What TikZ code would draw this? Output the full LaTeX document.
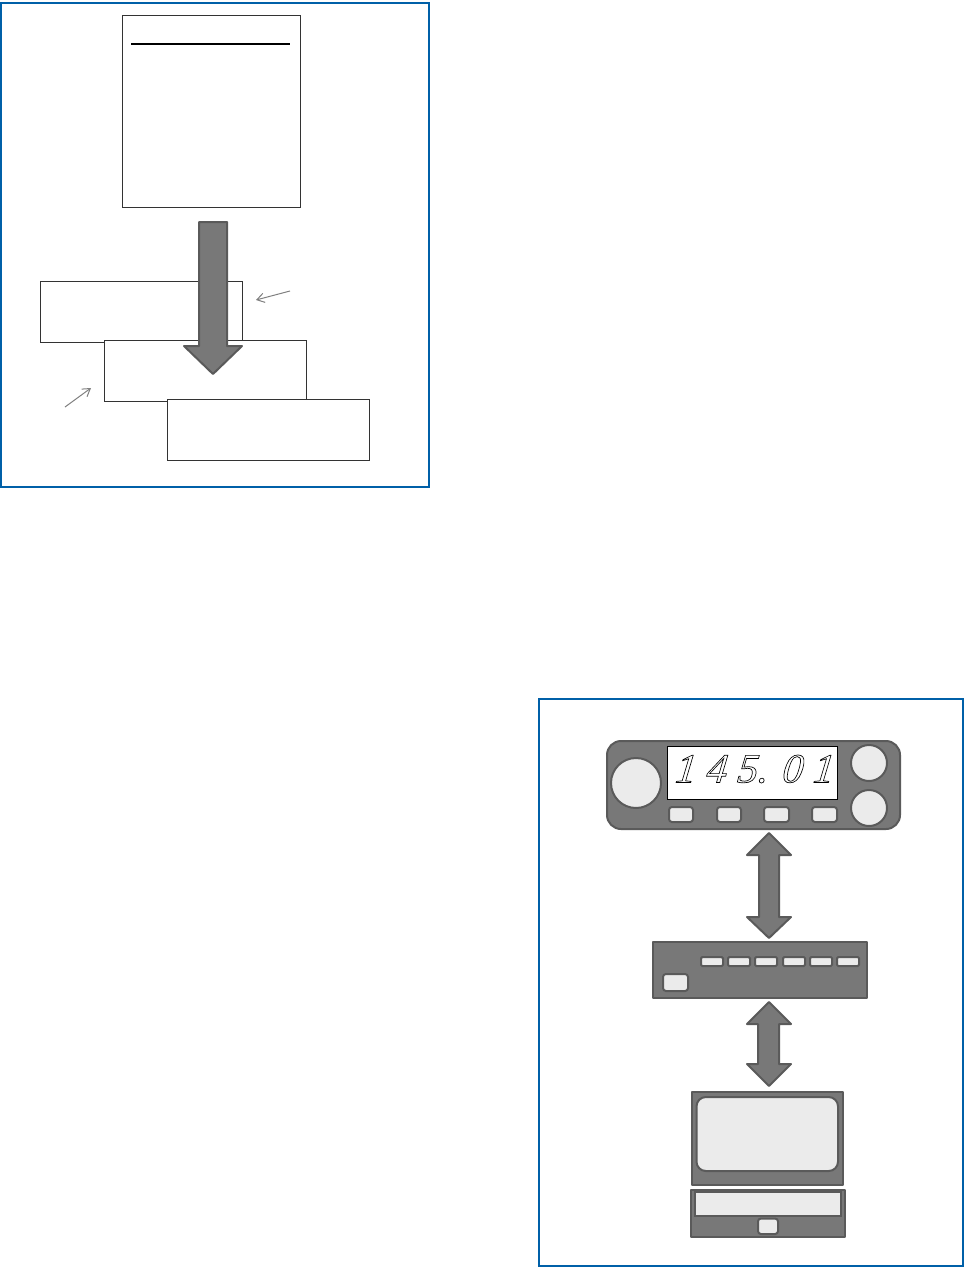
\documentclass[tikz,border=0pt]{standalone}
\usepackage{fontspec}
\setmainfont{Liberation Serif}
\usetikzlibrary{arrows.meta}
\definecolor{frameblue}{HTML}{0060A8}
\definecolor{devfill}{HTML}{787878}
\definecolor{devline}{HTML}{5A5A5A}
\definecolor{keyfill}{HTML}{EBEBEB}
\definecolor{boxline}{HTML}{333333}
\tikzset{
  frame/.style={draw=frameblue,line width=1.5pt,fill=white},
  paper/.style={draw=boxline,line width=0.65pt,fill=white},
  device/.style={draw=devline,line width=1.5pt,fill=devfill,line join=round},
  keycap/.style={draw=devline,line width=1.5pt,fill=keyfill,rounded corners=2.2pt},
  blockarrow/.style={draw=devline,line width=1.5pt,fill=devfill,line join=round},
  thinarrow/.style={draw=gray,line width=0.75pt,-{Straight Barb[length=5.5pt,width=7pt]}},
}
\begin{document}
\begin{tikzpicture}[x=0.75pt,y=-0.75pt]
\useasboundingbox (0,0) rectangle (964,1267);
% first frame
\draw[frame] (1,3) rectangle (429,487);
\draw[paper] (122.5,15) rectangle (300,207);
\draw[black,line width=1.5pt] (131,44) -- (290,44);
\draw[paper] (40.5,281) rectangle (242,342);
\draw[paper] (104,340) rectangle (306,401);
\draw[paper] (167.5,399) rectangle (369,460);
\draw[blockarrow] (199,222) -- (227,222) -- (227,346) -- (242,346) -- (213,374) -- (184,346) -- (199,346) -- cycle;
\coordinate (lblA) at (290,291);
\coordinate (tipA) at (256,300);
\coordinate (lblB) at (65,407);
\coordinate (tipB) at (91,388);
\draw[thinarrow] (lblA) -- (tipA);
\draw[thinarrow] (lblB) -- (tipB);
% second frame
\draw[frame] (539,698.5) rectangle (963,1266);
% radio
\draw[device,rounded corners=10.5pt] (607,741) rectangle (900,829);
\draw[device,fill=keyfill] (636,783) circle[radius=25];
\draw[device,fill=keyfill] (869,763) circle[radius=18];
\draw[device,fill=keyfill] (869,808) circle[radius=18];
\draw[black,line width=0.7pt,fill=white] (667,746) rectangle (837,799);
\node[inner sep=0pt,anchor=center,xslant=0.12] (freq) at (755.5,769)
  {\fontsize{31}{31}\selectfont\itshape\special{pdf:code 1 Tr 0.5 w}1 4 5. 0 1\special{pdf:code 0 Tr}};
\foreach \xa/\xb in {669/693,717/741,764/789,812/837}
  \draw[keycap] (\xa,807) rectangle (\xb,822);
% upper double arrow
\draw[blockarrow] (769,833) -- (791,855) -- (779,855) -- (779,917) -- (791,917) -- (769,938) -- (747,917) -- (759,917) -- (759,855) -- (747,855) -- cycle;
% modem
\draw[device] (653,942) rectangle (867,998);
\foreach \xa in {701,728,755,783,810,837}
  \draw[keycap,rounded corners=1pt] (\xa,957) rectangle ++(22,9);
\draw[keycap] (663,974) rectangle (688,991);
% lower double arrow
\draw[blockarrow] (769,1002) -- (791,1024) -- (779,1024) -- (779,1064) -- (791,1064) -- (769,1086) -- (747,1064) -- (758,1064) -- (758,1024) -- (747,1024) -- cycle;
% computer
\draw[device] (692,1092) rectangle (842.5,1185);
\draw[keycap,rounded corners=7pt] (696.5,1097) rectangle (838,1171);
\draw[device] (691,1189.5) rectangle (844.5,1237);
\draw[keycap,rounded corners=0pt] (695,1192) rectangle (841,1216);
\draw[keycap] (758,1218.5) rectangle (778,1234);
\end{tikzpicture}
\end{document}
